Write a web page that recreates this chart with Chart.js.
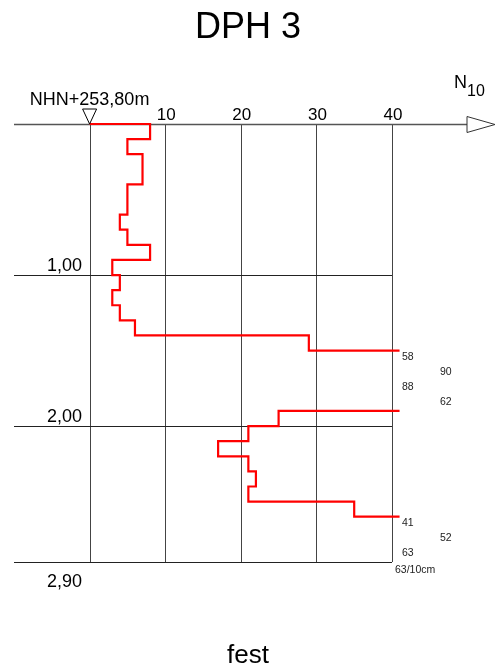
<!DOCTYPE html>
<html>
<head>
<meta charset="utf-8">
<style>
  html, body { margin: 0; padding: 0; background: #fff; }
  canvas { display: block; }
</style>
</head>
<body>
<script src="https://cdn.jsdelivr.net/npm/chart.js@4/dist/chart.umd.min.js"></script>
<canvas id="myChart" width="496" height="672"></canvas>
<script>
// DPH 3 - blows per 10 cm (N10) against depth below ground (m)
const title = 'DPH 3';
const heightLabel = 'NHN+253,80m';
const soilLabel = 'fest';
const intervalTop = [0.0, 0.1, 0.2, 0.3, 0.4, 0.5, 0.6, 0.7, 0.8, 0.9,
                     1.0, 1.1, 1.2, 1.3, 1.4, 1.5, 1.6, 1.7, 1.8, 1.9,
                     2.0, 2.1, 2.2, 2.3, 2.4, 2.5, 2.6, 2.7, 2.8];
const blows = [8, 5, 7, 7, 5, 5, 4, 5, 8, 3,
               4, 3, 4, 6, 29, 58, 90, 88, 62, 25,
               21, 17, 21, 22, 21, 35, 41, 52, 63];
const xTicks = [0, 10, 20, 30, 40];
const xTickLabels = ['', '10', '20', '30', '40'];
const depthTicks = [1.0, 2.0, 2.9];
const depthTickLabels = ['1,00', '2,00', '2,90'];
const endNote = '63/10cm';
const step = 0.1;
const xMax = 40;
const overflowX = 41;

const font = "'Liberation Sans', Arial, sans-serif";

// build the stepped profile from the blow counts
let profile = [{x: 0, y: 0}];
let over = false;
for (let i = 0; i < blows.length; i++) {
    let top = intervalTop[i];
    let v = blows[i];
    if (v > xMax) {
        if (!over) {
            profile.push({x: overflowX, y: top});
            profile.push({x: null, y: null});
        }
        over = true;
    } else {
        if (over) profile.push({x: overflowX, y: top});
        over = false;
        profile.push({x: v, y: top});
        profile.push({x: v, y: top + step});
    }
}

const decor = {
    id: 'decor',
    beforeDatasetsDraw(chart) {
        const ctx = chart.ctx;
        const xs = chart.scales.x, ys = chart.scales.y;
        const a = chart.chartArea;
        ctx.save();
        // vertical grid
        ctx.strokeStyle = '#444';
        ctx.lineWidth = 1;
        xTicks.forEach(t => {
            let px = Math.round(xs.getPixelForValue(t)) + 0.5;
            ctx.beginPath();
            ctx.moveTo(px, ys.getPixelForValue(0));
            ctx.lineTo(px, ys.getPixelForValue(depthTicks[depthTicks.length - 1]));
            ctx.stroke();
        });
        // horizontal grid
        ctx.strokeStyle = '#222';
        depthTicks.forEach(t => {
            let py = Math.round(ys.getPixelForValue(t)) + 0.5;
            ctx.beginPath();
            ctx.moveTo(a.left, py);
            ctx.lineTo(xs.getPixelForValue(xMax), py);
            ctx.stroke();
        });
        // top axis with arrow
        let y0 = Math.round(ys.getPixelForValue(0)) + 0.5;
        ctx.strokeStyle = '#555';
        ctx.lineWidth = 1.5;
        ctx.beginPath();
        ctx.moveTo(a.left, y0);
        ctx.lineTo(467, y0);
        ctx.stroke();
        ctx.lineWidth = 1;
        ctx.strokeStyle = '#333';
        ctx.beginPath();
        ctx.moveTo(467, y0 - 8);
        ctx.lineTo(495, y0);
        ctx.lineTo(467, y0 + 8);
        ctx.closePath();
        ctx.stroke();
        ctx.restore();
    },
    afterDraw(chart) {
        const ctx = chart.ctx;
        const xs = chart.scales.x, ys = chart.scales.y;
        ctx.save();
        ctx.fillStyle = '#000';
        // title
        ctx.textAlign = 'center';
        ctx.textBaseline = 'alphabetic';
        ctx.font = '36px ' + font;
        ctx.fillText(title, 248, 38);
        // x tick labels
        ctx.font = '17px ' + font;
        xTicks.forEach((t, i) => {
            ctx.fillText(xTickLabels[i], xs.getPixelForValue(t) + 1, 120);
        });
        // height label and marker
        let x0 = xs.getPixelForValue(0);
        let y0 = ys.getPixelForValue(0);
        ctx.font = '18px ' + font;
        ctx.fillText(heightLabel, x0, 105);
        ctx.strokeStyle = '#000';
        ctx.lineWidth = 1;
        ctx.beginPath();
        ctx.moveTo(x0 - 7, y0 - 15);
        ctx.lineTo(x0 + 7, y0 - 15);
        ctx.lineTo(x0, y0);
        ctx.closePath();
        ctx.stroke();
        // N10
        ctx.textAlign = 'left';
        ctx.font = '18px ' + font;
        ctx.fillText('N', 454, 88);
        ctx.font = '16px ' + font;
        ctx.fillText('10', 467, 96);
        // depth labels
        ctx.textAlign = 'right';
        ctx.font = '18px ' + font;
        depthTicks.forEach((t, i) => {
            let py = ys.getPixelForValue(t);
            let last = i === depthTicks.length - 1;
            ctx.fillText(depthTickLabels[i], 82, last ? py + 25 : py - 4);
        });
        // overflow blow counts
        ctx.textAlign = 'left';
        ctx.textBaseline = 'middle';
        ctx.font = '10.5px ' + font;
        ctx.fillStyle = '#222';
        let xr = xs.getPixelForValue(xMax);
        let run = 0;
        blows.forEach((v, i) => {
            if (v > xMax) {
                let py = ys.getPixelForValue(intervalTop[i] + step / 2) - 1;
                ctx.fillText(String(v), xr + (run % 2 === 0 ? 10 : 48), py);
                run++;
            } else {
                run = 0;
            }
        });
        ctx.fillText(endNote, xr + 3, ys.getPixelForValue(depthTicks[depthTicks.length - 1]) + 8);
        // soil description
        ctx.textAlign = 'center';
        ctx.textBaseline = 'alphabetic';
        ctx.fillStyle = '#000';
        ctx.font = '26px ' + font;
        ctx.fillText(soilLabel, 248, 663);
        ctx.restore();
    }
};

let ctx = document.getElementById('myChart').getContext('2d');
let myChart = new Chart(ctx, {
    type: 'line',
    data: {
        datasets: [{
            label: 'N10',
            data: profile,
            borderColor: '#ff0000',
            borderWidth: 2.2,
            pointRadius: 0,
            tension: 0,
            fill: false,
            spanGaps: false,
            clip: false
        }]
    },
    options: {
        responsive: false,
        animation: false,
        events: [],
        layout: { padding: { left: 14, right: 104, top: 124, bottom: 110 } },
        plugins: { legend: { display: false }, tooltip: { enabled: false }, title: { display: false } },
        scales: {
            x: { type: 'linear', min: -10, max: xMax, display: false },
            y: { type: 'linear', min: 0, max: 2.9, reverse: true, display: false }
        }
    },
    plugins: [decor]
});
</script>
</body>
</html>
